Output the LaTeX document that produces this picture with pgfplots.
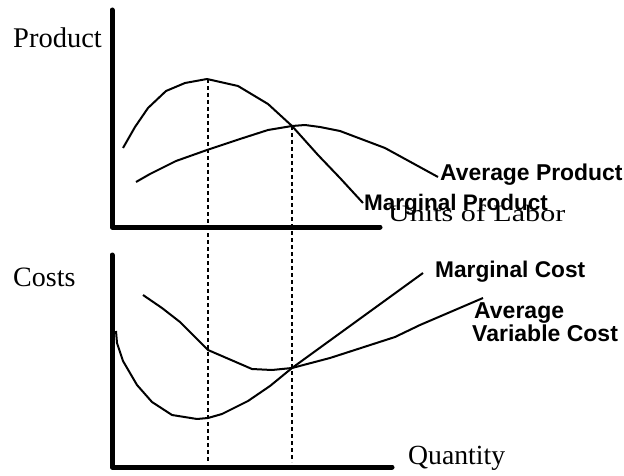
\documentclass[border=0pt]{standalone}
\usepackage{pgfplots}
\pgfplotsset{compat=1.18}
\usepackage{fontspec}
\setmainfont{Liberation Serif}
\newfontfamily\sansf{Liberation Sans}
\begin{document}
\begin{tikzpicture}
\begin{axis}[
  x=1pt, y=1pt, y dir=reverse,
  xmin=0, xmax=624, ymin=0, ymax=476,
  hide axis, clip=false, scale only axis,
  every axis plot/.append style={line join=round},
]
% frame for bounding box
\addplot[draw=none] coordinates {(0,0) (624,476)};
% axes
\addplot[line width=5pt, line cap=round] coordinates {(112,10) (112,227) (380,227)};
\addplot[line width=5pt, line cap=round] coordinates {(112,255) (112,467) (392,467)};
% dashed guides
\addplot[line width=1.8pt, dash pattern=on 4pt off 3pt] coordinates {(208,79) (208,462)};
\addplot[line width=1.8pt, dash pattern=on 4pt off 3pt] coordinates {(292,126) (292,462)};
% Marginal product
\addplot[line width=2pt] coordinates {(123,148) (135,127) (148,108) (166,91) (185,83) (207,79) (238,86) (268,104) (292,126) (318,155) (340,178) (363,203)};
% Average product
\addplot[line width=2pt] coordinates {(136,182) (150,174) (176,161) (207,150) (240,139) (268,130) (292,126) (305,125) (320,127) (340,131) (385,148) (438,177)};
% Marginal cost
\addplot[line width=2pt] coordinates {(116,331) (117,343) (123,361) (137,385) (152,402) (172,415) (197,419) (208,418) (222,414) (248,401) (270,386) (292,368) (423,273)};
% Average variable cost
\addplot[line width=2pt] coordinates {(143,295) (162,308) (180,322) (208,350) (252,369) (272,370) (292,368) (330,358) (395,337) (420,325) (483,298)};
% labels
\node[anchor=base west, inner sep=0pt, font=\fontsize{28.5}{30}\selectfont] at (axis cs:13,48) {Product};
\node[anchor=base west, inner sep=0pt, font=\fontsize{28}{30}\selectfont] at (axis cs:13,286) {Costs};
\node[anchor=base west, inner sep=0pt, font=\fontsize{27.7}{30}\selectfont] at (axis cs:408,464) {Quantity};
\node[anchor=base west, inner sep=0pt, font=\sansf\bfseries\fontsize{22.9}{26}\selectfont] at (axis cs:440,181) {Average Product};
\node[anchor=base west, inner sep=0pt, font=\sansf\bfseries\fontsize{22.5}{26}\selectfont] at (axis cs:364,211) {Marginal Product};
\node[anchor=base west, inner sep=0pt, font=\fontsize{23.5}{26}\selectfont] at (axis cs:388,221) {\scalebox{1.28}[1]{Units of Labor}};
\node[anchor=base west, inner sep=0pt, font=\sansf\bfseries\fontsize{22.7}{26}\selectfont] at (axis cs:435,277) {Marginal Cost};
\node[anchor=base west, inner sep=0pt, font=\sansf\bfseries\fontsize{23}{26}\selectfont] at (axis cs:474,318) {Average};
\node[anchor=base west, inner sep=0pt, font=\sansf\bfseries\fontsize{23}{26}\selectfont] at (axis cs:472,341) {Variable Cost};
\end{axis}
\end{tikzpicture}
\end{document}
